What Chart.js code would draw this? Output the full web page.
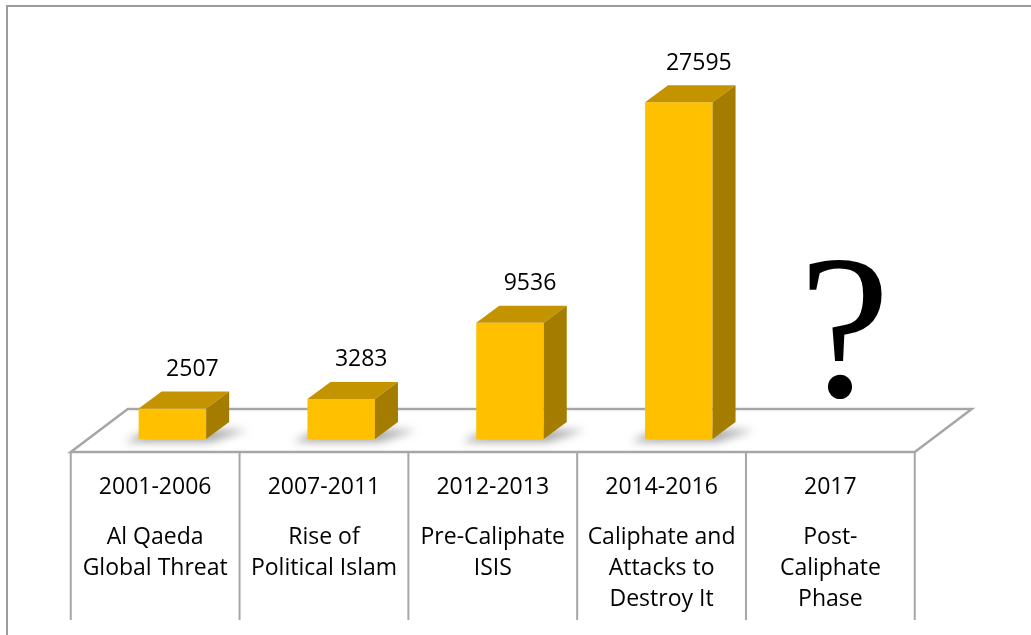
<!DOCTYPE html>
<html>
<head>
<meta charset="utf-8">
<script src="https://cdn.jsdelivr.net/npm/chart.js@4/dist/chart.umd.min.js"></script>
<style>
body { margin: 0; background: #fff; }
#wrap { position: relative; width: 1031px; height: 635px; overflow: hidden; }
#frame { position: absolute; left: 6px; top: 5px; right: -10px; bottom: -10px;
         border-top: 2px solid #9b9b9b; border-left: 2px solid #9b9b9b; }
canvas { position: absolute; left: 0; top: 0; }
</style>
</head>
<body>
<div id="wrap">
  <div id="frame"></div>
  <canvas id="myChart" width="1031" height="635"></canvas>
</div>
<script>
// periods along the x-axis
var periods = ["2001-2006", "2007-2011", "2012-2013", "2014-2016", "2017"];
// second part of each label
var phases = [
  ["Al Qaeda", "Global Threat"],
  ["Rise of", "Political Islam"],
  ["Pre-Caliphate", "ISIS"],
  ["Caliphate and", "Attacks to", "Destroy It"],
  ["Post-", "Caliphate", "Phase"]
];
// bar values (last period unknown)
var attacks = [2507, 3283, 9536, 27595, null];
var unknownMark = "?";

var depthX = 23, depthY = 17;     // bar depth
var floorFront = 13, floorBack = 30, floorShift = 57 * 13 / 43;
var txtFont = '23px "Open Sans"';

var fake3d = {
  id: 'fake3d',
  beforeDatasetsDraw: function(chart) {
    var ctx = chart.ctx, a = chart.chartArea;
    var fy = a.bottom + floorFront, by = a.bottom - floorBack;
    var fl = a.left - floorShift, fr = a.right - floorShift;
    var k = 57 / 43;
    ctx.save();
    ctx.strokeStyle = '#a6a6a6';
    ctx.lineWidth = 2.5;
    ctx.beginPath();
    ctx.moveTo(fl, fy);
    ctx.lineTo(fr, fy);
    ctx.lineTo(fr + (fy - by) * k, by);
    ctx.lineTo(fl + (fy - by) * k, by);
    ctx.closePath();
    ctx.stroke();
    var colW = (fr - fl) / periods.length;
    ctx.lineWidth = 2;
    for (var i = 0; i <= periods.length; i++) {
      ctx.beginPath();
      ctx.moveTo(fl + i * colW, fy);
      ctx.lineTo(fl + i * colW, 620);
      ctx.stroke();
    }
    // soft shadows under bars
    var meta = chart.getDatasetMeta(0);
    meta.data.forEach(function(el, i) {
      if (attacks[i] == null) return;
      var l = el.x - el.width / 2, r = el.x + el.width / 2, b = el.base;
      ctx.save();
      ctx.filter = 'blur(4px)';
      ctx.fillStyle = 'rgba(60,60,60,0.45)';
      ctx.beginPath();
      ctx.moveTo(l - 14, b + 3);
      ctx.lineTo(r + 4, b + 3);
      ctx.lineTo(r + depthX + 18, b - depthY + 8);
      ctx.lineTo(l + 10, b - depthY + 8);
      ctx.closePath();
      ctx.fill();
      ctx.restore();
    });
    ctx.restore();
  },
  afterDatasetsDraw: function(chart) {
    var ctx = chart.ctx, a = chart.chartArea;
    var meta = chart.getDatasetMeta(0);
    ctx.save();
    meta.data.forEach(function(el, i) {
      if (attacks[i] == null) return;
      var l = el.x - el.width / 2, r = el.x + el.width / 2, t = el.y, b = el.base;
      ctx.fillStyle = '#C49400';
      ctx.beginPath();
      ctx.moveTo(l, t); ctx.lineTo(l + depthX, t - depthY);
      ctx.lineTo(r + depthX, t - depthY); ctx.lineTo(r, t);
      ctx.closePath(); ctx.fill();
      ctx.fillStyle = '#A47C00';
      ctx.beginPath();
      ctx.moveTo(r, t); ctx.lineTo(r + depthX, t - depthY);
      ctx.lineTo(r + depthX, b - depthY); ctx.lineTo(r, b);
      ctx.closePath(); ctx.fill();
      // value label
      ctx.fillStyle = '#000';
      ctx.font = txtFont;
      ctx.textAlign = 'center';
      ctx.textBaseline = 'middle';
      ctx.fillText(String(attacks[i]), el.x + 20, t - 39);
    });
    // unknown period mark
    var xs = chart.scales.x;
    meta.data.forEach(function(el, i) {
      if (attacks[i] != null) return;
      ctx.fillStyle = '#000';
      ctx.font = '205px "Liberation Serif"';
      ctx.textAlign = 'center';
      ctx.textBaseline = 'alphabetic';
      ctx.fillText(unknownMark, xs.getPixelForValue(i) - 3, 396);
    });
    // category labels in the table under the floor
    ctx.fillStyle = '#000';
    ctx.font = txtFont;
    ctx.textAlign = 'center';
    ctx.textBaseline = 'middle';
    periods.forEach(function(p, i) {
      var cx = xs.getPixelForValue(i) - floorShift;
      ctx.fillText(p, cx, a.bottom + 48);
      phases[i].forEach(function(line, j) {
        ctx.fillText(line, cx, a.bottom + 98 + j * 31);
      });
    });
    ctx.restore();
  }
};

var ctx = document.getElementById("myChart");
var myChart = new Chart(ctx, {
  type: 'bar',
  data: {
    labels: periods,
    datasets: [{
      data: attacks,
      backgroundColor: '#FFC000',
      barPercentage: 0.4,
      categoryPercentage: 1.0
    }]
  },
  options: {
    responsive: false,
    animation: false,
    layout: { padding: { left: 88, right: 99, top: 73, bottom: 196 } },
    plugins: { legend: { display: false }, tooltip: { enabled: false } },
    scales: {
      x: { display: false },
      y: { display: false, min: 0, max: 30000 }
    }
  },
  plugins: [fake3d]
});
</script>
</body>
</html>
